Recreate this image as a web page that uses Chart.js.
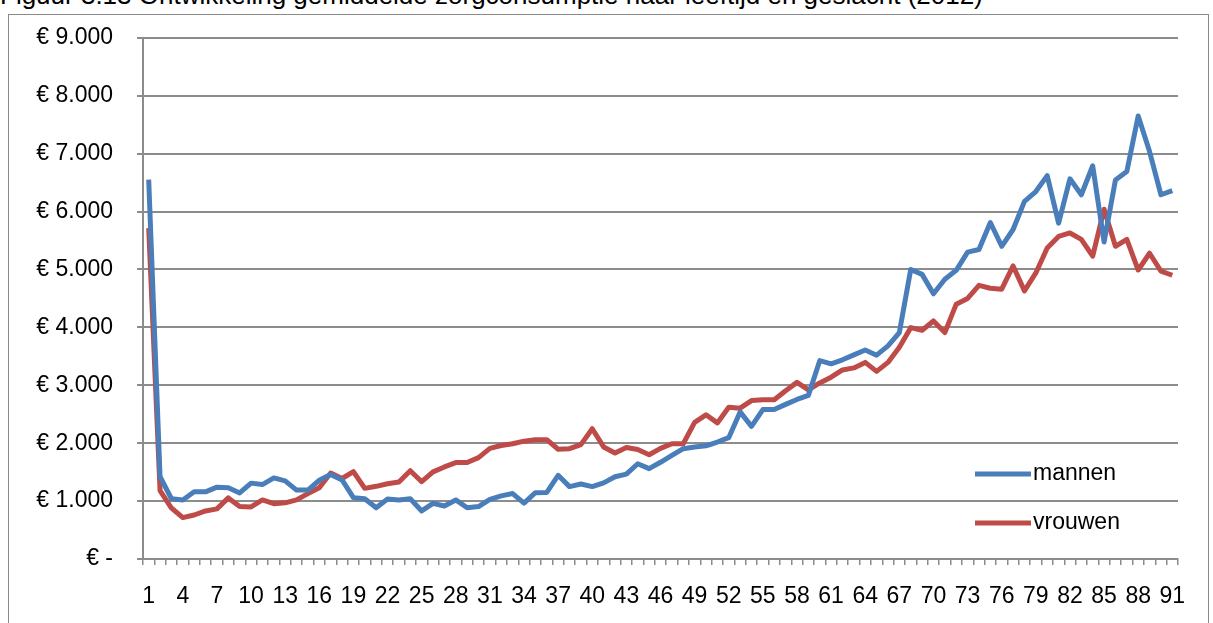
<!DOCTYPE html>
<html>
<head>
<meta charset="utf-8">
<script src="https://cdn.jsdelivr.net/npm/chart.js@4/dist/chart.umd.min.js"></script>
<style>
    html, body { margin: 0; padding: 0; background: #fff; overflow: hidden; }
    body { width: 1213px; height: 623px; position: relative; font-family: "Liberation Sans", Arial, sans-serif; }
    #title { position: absolute; left: 0; top: -20px; font-size: 26px; white-space: nowrap; color: #000; }
    #frame { position: absolute; left: 8px; top: 14px; width: 1199px; height: 700px; border: 1px solid #8a8a8a; }
    #chart { position: absolute; left: 0; top: 0; }
</style>
</head>
<body>
<div id="title">Figuur 3.13 Ontwikkeling gemiddelde zorgconsumptie naar leeftijd en geslacht (2012)</div>
<div id="frame"></div>
<canvas id="chart" width="1213" height="623"></canvas>
<script>
// leeftijd 1 t/m 91
var ages = [];
for (var a = 1; a <= 91; a++) {
    ages.push(String(a));
}

var mannen = [
    6550, 1420, 1040, 1020, 1160, 1160, 1240, 1230, 1140, 1310,
    1285, 1400, 1350, 1190, 1190, 1360, 1460, 1365, 1060, 1040,
    885, 1035, 1020, 1040, 830, 960, 915, 1020, 885, 905,
    1030, 1090, 1130, 965, 1145, 1150, 1445, 1250, 1295, 1250,
    1315, 1420, 1465, 1645, 1560, 1670, 1790, 1905, 1935, 1955,
    2020, 2095, 2540, 2290, 2580, 2580, 2670, 2755, 2825, 3425,
    3370, 3440, 3525, 3610, 3520, 3680, 3910, 5000, 4915, 4580,
    4830, 4985, 5300, 5345, 5810, 5400, 5690, 6175, 6345, 6620,
    5800, 6565, 6290, 6790, 5475, 6545, 6690, 7650, 7035, 6290,
    6360
];

var vrouwen = [
    5715, 1180, 880, 715, 760, 830, 865, 1055, 905, 900,
    1020, 955, 970, 1020, 1130, 1230, 1485, 1390, 1510, 1220,
    1255, 1300, 1330, 1525, 1335, 1505, 1590, 1665, 1665, 1750,
    1910, 1960, 1990, 2035, 2060, 2060, 1895, 1905, 1975, 2250,
    1935, 1830, 1925, 1890, 1800, 1910, 1990, 1990, 2360, 2490,
    2350, 2620, 2605, 2735, 2750, 2750, 2905, 3050, 2920, 3040,
    3140, 3265, 3300, 3395, 3240, 3395, 3655, 3995, 3950, 4110,
    3910, 4400, 4500, 4725, 4675, 4660, 5060, 4630, 4940, 5370,
    5570, 5630, 5520, 5230, 6040, 5400, 5520, 4990, 5280, 4970,
    4900
];

var BLUE = '#4a7ebb';
var RED = '#be4b48';
var GRID = '#8c8c8c';
var FONT = { family: '"Liberation Sans", Arial, sans-serif', size: 23 };

function euro(value) {
    if (value === 0) {
        return '€ -';
    }
    return '€ ' + String(value).replace(/\B(?=(\d{3})+(?!\d))/g, '.');
}

// legenda binnen het plotgebied, rechtsonder
var insideLegend = {
    id: 'insideLegend',
    afterDraw: function (chart) {
        var ctx = chart.ctx;
        var rows = [474, 523];
        ctx.save();
        ctx.font = FONT.size + 'px ' + FONT.family;
        ctx.textBaseline = 'middle';
        ctx.fillStyle = '#000';
        chart.data.datasets.forEach(function (ds, i) {
            var y = rows[i];
            ctx.strokeStyle = ds.borderColor;
            ctx.lineWidth = 5;
            ctx.lineCap = 'butt';
            ctx.beginPath();
            ctx.moveTo(975, y);
            ctx.lineTo(1031, y);
            ctx.stroke();
            ctx.fillText(ds.label, 1033, y);
        });
        ctx.restore();
    }
};

new Chart(document.getElementById('chart'), {
    type: 'line',
    data: {
        labels: ages,
        datasets: [
            {
                label: 'mannen',
                data: mannen,
                borderColor: BLUE,
                backgroundColor: BLUE,
                borderWidth: 5,
                borderJoinStyle: 'round',
                pointRadius: 0,
                tension: 0,
                fill: false
            },
            {
                label: 'vrouwen',
                data: vrouwen,
                borderColor: RED,
                backgroundColor: RED,
                borderWidth: 5,
                borderJoinStyle: 'round',
                pointRadius: 0,
                tension: 0,
                fill: false
            }
        ]
    },
    options: {
        responsive: false,
        animation: false,
        layout: { padding: { left: 0, top: 35, right: 35, bottom: 0 } },
        plugins: {
            legend: { display: false },
            tooltip: { enabled: false }
        },
        scales: {
            x: {
                type: 'category',
                offset: true,
                grid: {
                    offset: true,
                    drawOnChartArea: false,
                    drawTicks: true,
                    tickLength: 6,
                    color: GRID,
                    lineWidth: 1.5
                },
                border: { color: GRID, width: 2 },
                ticks: {
                    autoSkip: false,
                    maxRotation: 0,
                    minRotation: 0,
                    padding: 18,
                    color: '#000',
                    font: FONT,
                    callback: function (value, index) {
                        return index % 3 === 0 ? ages[index] : '';
                    }
                },
                afterFit: function (scale) {
                    scale.height = 64;
                }
            },
            y: {
                min: 0,
                max: 9000,
                ticks: {
                    stepSize: 1000,
                    padding: 24,
                    color: '#000',
                    font: FONT,
                    callback: euro
                },
                grid: {
                    color: GRID,
                    lineWidth: 2,
                    drawTicks: true,
                    tickLength: 6
                },
                border: { color: GRID, width: 2 },
                afterFit: function (scale) {
                    scale.width = 143;
                }
            }
        }
    },
    plugins: [insideLegend]
});
</script>
</body>
</html>
